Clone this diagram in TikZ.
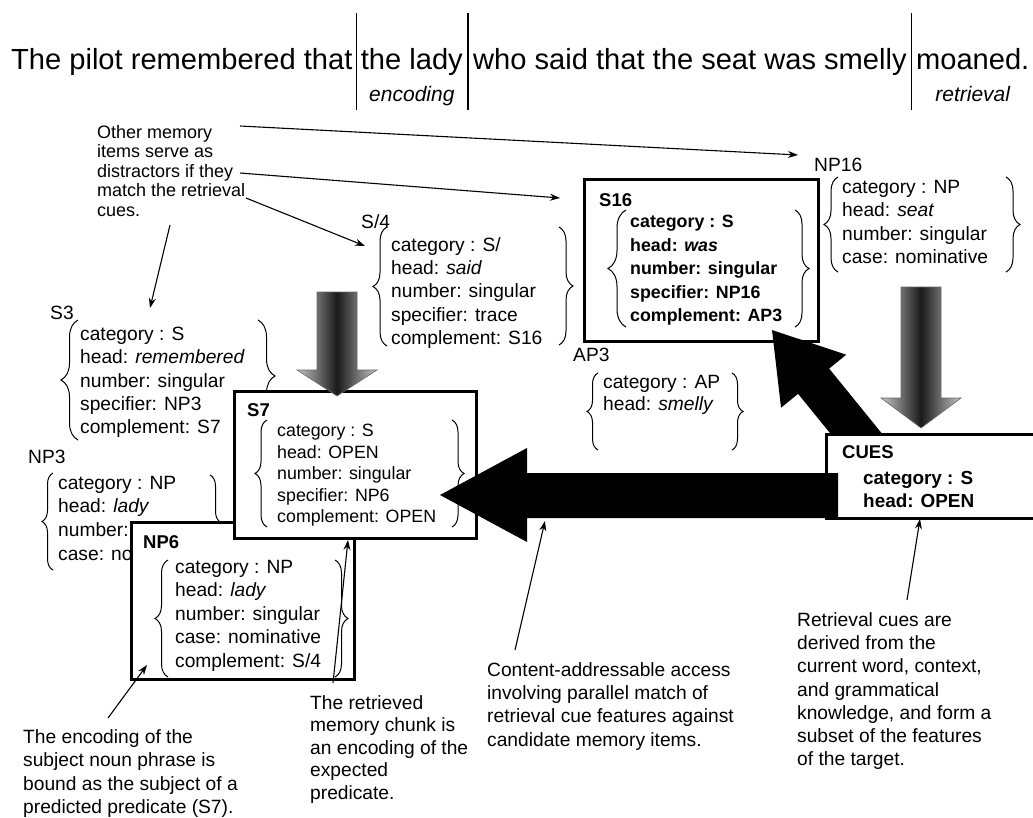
\documentclass[tikz,border=0pt]{standalone}
\usepackage{fontspec}
\setmainfont{Liberation Sans}
\usetikzlibrary{decorations.pathreplacing,arrows.meta,calc}
\tikzset{
  sent/.style={anchor=base west,inner sep=0pt,font=\fontsize{29.1}{30}\selectfont},
  bar/.style={line width=1.3pt},
  lst/.style={align=left,inner sep=0pt,anchor=north west,font=\fontsize{19.2}{#1}\selectfont},
  lst/.default=23.3,
  slst/.style={align=left,inner sep=0pt,anchor=north west,font=\fontsize{17.8}{#1}\selectfont},
  slst/.default=21.5,
  blst/.style={align=left,inner sep=0pt,anchor=north west,font=\fontsize{#1}{23.5}\selectfont\bfseries},
  blst/.default=17.8,
  lbl/.style={inner sep=0pt,anchor=west,font=\fontsize{19.2}{22}\selectfont},
  blbl/.style={inner sep=0pt,anchor=west,font=\fontsize{18.5}{22}\selectfont\bfseries},
  ann/.style={align=left,inner sep=0pt,anchor=north west,font=\fontsize{19.2}{#1}\selectfont},
  ann/.default=23.3,
  ital/.style={anchor=base,inner sep=0pt,font=\fontsize{21}{24}\selectfont\itshape},
  brc/.style={decorate,decoration={brace,amplitude=#1,aspect=0.5},line width=1pt},
  brc/.default=14pt,
  box/.style={draw,line width=3pt,fill=white,inner sep=0pt,anchor=north west},
  pt/.style={-{Stealth[length=10pt,width=7pt]},line width=1.1pt},
  grey/.style={left color=gray!45,right color=gray!45,middle color=black!90,draw=black!60,line width=0.6pt},
}
\begin{document}
\begin{tikzpicture}[x=1pt,y=-1pt]
\useasboundingbox (0,0) rectangle (1033,817);
\clip (0,0) rectangle (1033,817);
\fill[white] (0,0) rectangle (1033,817);
\coordinate (tA) at (0,13);
\coordinate (tB) at (0,110);
\coordinate (tC) at (0,101);
% sentence
\node[sent] (s1) at (11,69) {The pilot remembered that};
\node[sent] (s2) at ($(s1.base east)+(8,0)$) {the lady};
\node[sent] (s3) at ($(s2.base east)+(10,0)$) {who said that the seat was smelly};
\node[sent] (s4) at ($(s3.base east)+(9,0)$) {moaned.};
\coordinate (b1) at ($(s1.base east)!.5!(s2.base west)$);
\coordinate (b2) at ($(s2.base east)!.5!(s3.base west)$);
\coordinate (b3) at ($(s3.base east)!.5!(s4.base west)$);
\coordinate (b4) at ($(s4.base east)+(4,0)$);
\draw[bar] (b1 |- tA) -- (b1 |- tB);
\draw[bar] (b2 |- tA) -- (b2 |- tB);
\draw[bar] (b3 |- tA) -- (b3 |- tB);
\draw[line width=0.8pt,gray!60] (b4 |- tA) -- (b4 |- tB);
\node[ital] (enc) at (s2.base |- tC) {encoding};
\node[ital] (retr) at (s4.base |- tC) {retrieval};

% other memory items annotation
\node[ann=19.5,font=\fontsize{18}{19.5}\selectfont] (oth) at (97,125) {Other memory\\items serve as\\distractors if they\\match the retrieval\\cues.};

% S3
\node[lbl] (s3lab) at (50,313) {S3};
\node[lst] (s3list) at (80,327) {category : S\\head: \textit{remembered}\\number: singular\\specifier: NP3\\complement: S7};
\draw[brc=17pt] (78,440) -- (78,320);
\draw[brc=17pt] (258,320) -- (258,432);

% S/4
\node[lbl] (s4lab) at (361,222) {S/4};
\node[lst] (s4list) at (391,237) {category : S/\\head: \textit{said}\\number: singular\\specifier: trace\\complement: S16};
\draw[brc] (387,346) -- (387,227);
\draw[brc] (559,227) -- (559,345);

% NP16
\node[lbl] (np16lab) at (814,165) {NP16};
\node[lst] (np16list) at (842,180) {category : NP\\head: \textit{seat}\\number: singular\\case: nominative};
\draw[brc] (838,272) -- (838,177);
\draw[brc] (1006,177) -- (1006,272);

% S16
\node[box,minimum width=234pt,minimum height=162pt] (s16box) at (583,178) {};
\node[blbl] (s16lab) at (599,200) {S16};
\node[blst] (s16list) at (630,215) {category : S\\head: \textit{was}\\number: singular\\specifier: NP16\\complement: AP3};
\draw[brc=18pt] (626,327) -- (626,210);
\draw[brc] (795,210) -- (795,327);

% AP3
\node[lbl] (ap3lab) at (573,355) {AP3};
\node[lst=22] (ap3list) at (603,375) {category : AP\\head: \textit{smelly}};
\draw[brc=11pt] (598,450) -- (598,373);
\draw[brc=11pt] (732,373) -- (732,450);

% NP3 (lower lines partly hidden behind NP6 in the reference)
\node[lbl] (np3lab) at (28,457) {NP3};
\node[lst] (np3list) at (58,476) {category : NP\\head: \textit{lady}};
\node[lst] (np3rest) at (58,522.6) {number:\\case: no};
\draw[brc=11pt] (53,570) -- (53,473);
\draw[brc=11pt] (210,475) -- (210,570);

% NP6
\node[box,minimum width=223pt,minimum height=157pt] (np6box) at (130,521) {};
\node[blbl] (np6lab) at (143,542) {NP6};
\node[lst=23.5] (np6list) at (175,560) {category : NP\\head: \textit{lady}\\number: singular\\case: nominative\\complement: S/4};
\draw[brc=13pt] (168,677) -- (168,560);
\draw[brc=13pt] (335,560) -- (335,677);

% S7
\node[box,minimum width=242pt,minimum height=147pt] (s7box) at (233,390) {};
\node[blbl] (s7lab) at (247,410) {S7};
\node[slst] (s7list) at (277,424) {category : S\\head: OPEN\\number: singular\\specifier: NP6\\complement: OPEN};
\draw[brc=12pt] (267,527) -- (267,420);
\draw[brc=12pt] (452,420) -- (452,527);

% grey arrows
\draw[grey] (317,292) -- (357,292) -- (357,370) -- (377,370) -- (337,396) -- (297,370) -- (317,370) -- cycle;
\draw[grey] (901,287) -- (941,287) -- (941,398) -- (961,398) -- (921,428) -- (881,398) -- (901,398) -- cycle;

% diagonal black arrow (tip over S16, tail behind CUES box)
\begin{scope}[shift={(772,330)},rotate=-50.9]
\fill[black] (0,0) -- (66,42) -- (66,20) -- (160,20) -- (160,-20) -- (66,-20) -- (66,-42) -- cycle;
\end{scope}

% CUES
\node[box,minimum width=230pt,minimum height=84pt] (cuesbox) at (825,433) {};
\node[blbl] (cueslab) at (842,452) {CUES};
\node[blst=18.9] (cueslist) at (863,471) {category : S\\head: OPEN};

% horizontal black arrow
\fill[black] (440,495) -- (527,448) -- (527,473) -- (838,473) -- (838,518) -- (527,518) -- (527,542) -- cycle;

% bottom annotations
\node[ann=23.5] (encann) at (23,729) {The encoding of the\\subject noun phrase is\\bound as the subject of a\\predicted predicate (S7).};
\node[ann=22.5] (retann) at (310,695) {The retrieved\\memory chunk is\\an encoding of the\\expected\\predicate.};
\node[ann] (contann) at (487,662) {Content-addressable access\\involving parallel match of\\retrieval cue features against\\candidate memory items.};
\node[ann] (cuesann) at (797,612) {Retrieval cues are\\derived from the\\current word, context,\\and grammatical\\knowledge, and form a\\subset of the features\\of the target.};

% annotation arrows
\coordinate (o1) at (240,126); \coordinate (o1e) at (798,155);
\coordinate (o2) at (240,173); \coordinate (o2e) at (560,198);
\coordinate (o3) at (246,198); \coordinate (o3e) at (365,246);
\coordinate (o4) at (170,225); \coordinate (o4e) at (150,308);
\draw[pt] (o1) -- (o1e);
\draw[pt] (o2) -- (o2e);
\draw[pt] (o3) -- (o3e);
\draw[pt] (o4) -- (o4e);
\coordinate (e1) at (108,718); \coordinate (e1e) at (147,665);
\coordinate (r1) at (333,683); \coordinate (r1e) at (348,540);
\coordinate (c1) at (515,650); \coordinate (c1e) at (545,521);
\coordinate (q1) at (907,600); \coordinate (q1e) at (920,519);
\draw[pt] (e1) -- (e1e);
\draw[pt] (r1) -- (r1e);
\draw[pt] (c1) -- (c1e);
\draw[pt] (q1) -- (q1e);
\end{tikzpicture}
\end{document}
